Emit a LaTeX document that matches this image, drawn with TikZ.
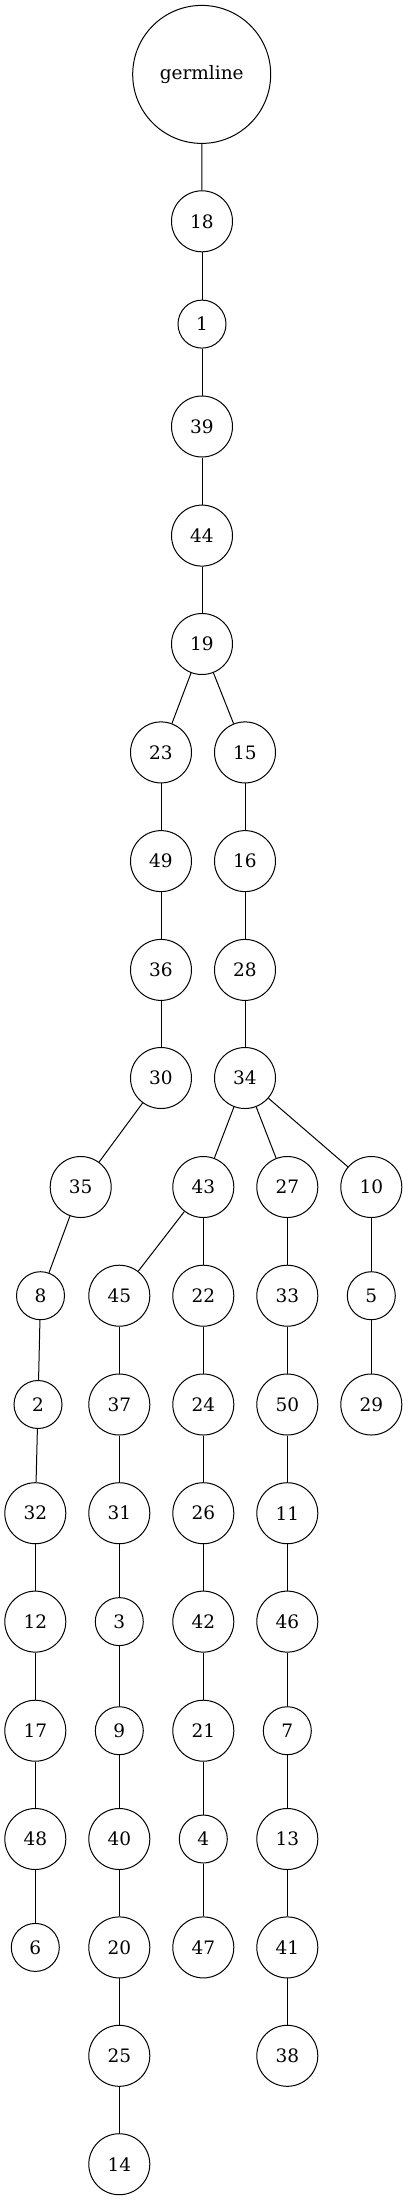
\documentclass[tikz,border=0pt]{standalone}
\usepackage{fontspec}
\setmainfont{DejaVu Serif}
\begin{document}
\begin{tikzpicture}[x=1pt, y=1pt, line width=1pt,
    vtx/.style={circle, draw, minimum size=61pt, inner sep=0pt, font=\fontsize{18.5}{22}\selectfont},
    vtxs/.style={vtx, minimum size=48pt},
    germ/.style={vtx, minimum size=138pt}]
\useasboundingbox (0,0) rectangle (407,-2201);
% nodes
\node[germ] (ng) at (201.7, -74.4) {germline};
\node[vtx]  (n18) at (202, -221.3) {18};
\node[vtxs] (n1)  at (202, -324.1) {1};
\node[vtx]  (n39) at (202, -426.5) {39};
\node[vtx]  (n44) at (202, -535.6) {44};
\node[vtx]  (n19) at (202, -644) {19};
    \node[vtx]  (n23) at (161, -752.4) {23};
    \node[vtx]  (n49) at (161, -861.1) {49};
    \node[vtx]  (n36) at (161, -969.9) {36};
    \node[vtx]  (n30) at (161, -1078) {30};
    \node[vtx]  (n35) at (80.7, -1187) {35};
    \node[vtxs] (n8)  at (40.5, -1295.7) {8};
    \node[vtxs] (n2)  at (38, -1404.5) {2};
    \node[vtx]  (n32) at (35.3, -1513.2) {32};
    \node[vtx]  (n12) at (35.3, -1621.6) {12};
    \node[vtx]  (n17) at (35.3, -1730.7) {17};
    \node[vtx]  (n48) at (35.3, -1839) {48};
    \node[vtxs] (n6)  at (35.3, -1947.4) {6};
    \node[vtx]  (n15) at (245, -752.4) {15};
    \node[vtx]  (n16) at (245, -861.1) {16};
    \node[vtx]  (n28) at (245, -969.9) {28};
    \node[vtx]  (n34) at (245, -1078) {34};
        \node[vtx]  (n43) at (203.3, -1187) {43};
            \node[vtx]  (n45) at (119.3, -1295.7) {45};
            \node[vtx]  (n37) at (119.3, -1404.5) {37};
            \node[vtx]  (n31) at (119.3, -1513.2) {31};
            \node[vtxs] (n3)  at (119.3, -1621.6) {3};
            \node[vtxs] (n9)  at (119.3, -1730.7) {9};
            \node[vtx]  (n40) at (119.3, -1839) {40};
            \node[vtx]  (n20) at (119.3, -1947.4) {20};
            \node[vtx]  (n25) at (119.3, -2055.8) {25};
            \node[vtx]  (n14) at (119.3, -2164.2) {14};
            \node[vtx]  (n22) at (203.3, -1295.7) {22};
            \node[vtx]  (n24) at (203.3, -1404.5) {24};
            \node[vtx]  (n26) at (203.3, -1513.2) {26};
            \node[vtx]  (n42) at (203.3, -1621.6) {42};
            \node[vtx]  (n21) at (203.3, -1730.7) {21};
            \node[vtxs] (n4)  at (203.3, -1839) {4};
            \node[vtx]  (n47) at (203.3, -1947.4) {47};
        \node[vtx]  (n27) at (287.3, -1187) {27};
        \node[vtx]  (n33) at (287.3, -1295.7) {33};
        \node[vtx]  (n50) at (287.3, -1404.5) {50};
        \node[vtx]  (n11) at (287.3, -1513.2) {11};
        \node[vtx]  (n46) at (287.3, -1621.6) {46};
        \node[vtxs] (n7)  at (287.3, -1730.7) {7};
        \node[vtx]  (n13) at (287.3, -1839) {13};
        \node[vtx]  (n41) at (287.3, -1947.4) {41};
        \node[vtx]  (n38) at (287.3, -2055.8) {38};
        \node[vtx]  (n10) at (371.3, -1187) {10};
        \node[vtxs] (n5)  at (371.3, -1295.7) {5};
        \node[vtx]  (n29) at (371.3, -1404.5) {29};
% lines
\draw (ng)  -- (n18);
\draw (n18) -- (n1);
\draw (n1)  -- (n39);
\draw (n39) -- (n44);
\draw (n44) -- (n19);
\draw (n19) -- (n23);
\draw (n19) -- (n15);
\draw (n23) -- (n49);
\draw (n49) -- (n36);
\draw (n36) -- (n30);
\draw (n30) -- (n35);
\draw (n35) -- (n8);
\draw (n8)  -- (n2);
\draw (n2)  -- (n32);
\draw (n32) -- (n12);
\draw (n12) -- (n17);
\draw (n17) -- (n48);
\draw (n48) -- (n6);
\draw (n15) -- (n16);
\draw (n16) -- (n28);
\draw (n28) -- (n34);
\draw (n34) -- (n43);
\draw (n34) -- (n27);
\draw (n34) -- (n10);
\draw (n43) -- (n45);
\draw (n43) -- (n22);
\draw (n45) -- (n37);
\draw (n37) -- (n31);
\draw (n31) -- (n3);
\draw (n3)  -- (n9);
\draw (n9)  -- (n40);
\draw (n40) -- (n20);
\draw (n20) -- (n25);
\draw (n25) -- (n14);
\draw (n22) -- (n24);
\draw (n24) -- (n26);
\draw (n26) -- (n42);
\draw (n42) -- (n21);
\draw (n21) -- (n4);
\draw (n4)  -- (n47);
\draw (n27) -- (n33);
\draw (n33) -- (n50);
\draw (n50) -- (n11);
\draw (n11) -- (n46);
\draw (n46) -- (n7);
\draw (n7)  -- (n13);
\draw (n13) -- (n41);
\draw (n41) -- (n38);
\draw (n10) -- (n5);
\draw (n5)  -- (n29);
\end{tikzpicture}
\end{document}
